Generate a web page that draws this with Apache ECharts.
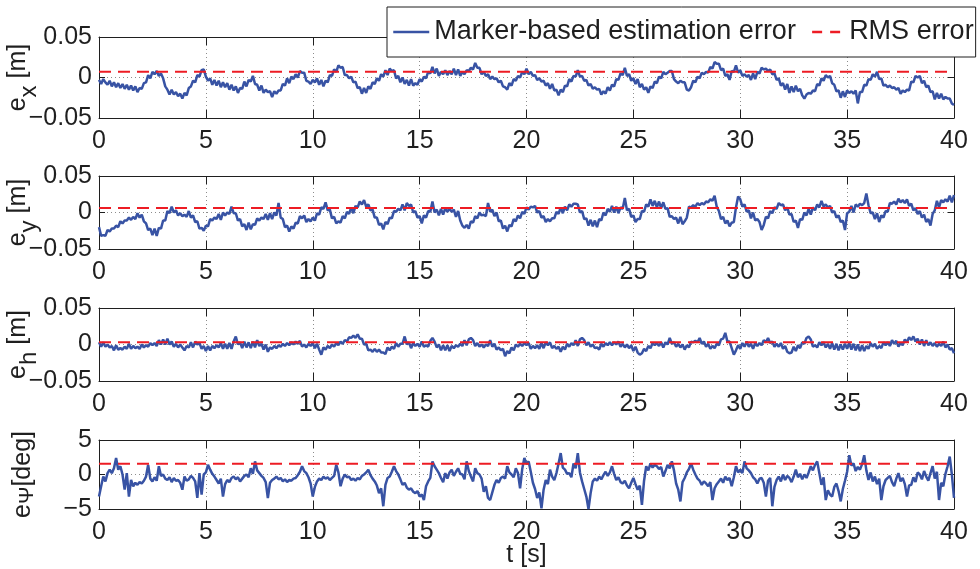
<!DOCTYPE html>
<html>
<head>
<meta charset="utf-8">
<title>Marker-based estimation error</title>
<script src="https://cdn.jsdelivr.net/npm/echarts@6/dist/echarts.min.js"></script>
<style>
  html, body { margin: 0; padding: 0; background: #fff; }
  #chart { width: 980px; height: 569px; }
</style>
</head>
<body>
<div id="chart"></div>
<script>
// Sampling period of the logged errors [s]
const sampleStep = 0.1;

// Position error along x [m], one row per second
const exValues = [
-0.003,-0.008,-0.002,-0.006,-0.009,-0.004,-0.011,-0.006,-0.012,-0.007,
-0.013,-0.008,-0.014,-0.009,-0.015,-0.010,-0.016,-0.011,-0.018,-0.013,
-0.014,-0.007,-0.006,0.003,-0.001,0.007,0.004,0.008,0.002,0.005,
-0.001,-0.011,-0.015,-0.021,-0.015,-0.021,-0.018,-0.023,-0.020,-0.026,
-0.019,-0.022,-0.013,-0.011,-0.004,-0.006,0.003,0.001,0.009,0.010,
0.001,-0.004,-0.001,-0.009,-0.003,-0.010,-0.004,-0.012,-0.006,-0.012,
-0.007,-0.015,-0.009,-0.016,-0.011,-0.019,-0.013,-0.014,-0.005,-0.011,
-0.003,-0.005,0.002,-0.008,-0.009,-0.016,-0.010,-0.019,-0.015,-0.018,
-0.017,-0.024,-0.017,-0.020,-0.016,-0.016,-0.008,-0.010,-0.001,-0.007,
0.001,-0.002,0.004,0.000,0.008,0.006,0.006,-0.004,-0.005,-0.008,
-0.003,-0.006,-0.001,-0.009,-0.003,-0.011,-0.004,-0.006,0.003,0.002,
0.010,0.007,0.015,0.012,0.013,0.003,0.003,-0.001,0.001,-0.006,
-0.005,-0.013,-0.012,-0.020,-0.013,-0.019,-0.011,-0.014,-0.006,-0.008,
-0.001,-0.004,0.004,0.001,0.009,0.003,0.011,0.008,0.009,-0.001,
0.002,-0.006,0.000,-0.008,-0.003,-0.010,-0.002,-0.010,-0.007,-0.009,
-0.002,-0.005,0.001,-0.001,0.007,0.005,0.013,0.005,0.011,0.002,
0.007,0.004,0.009,0.003,0.008,0.004,0.011,0.003,0.010,0.002,
0.007,0.004,0.009,0.008,0.012,0.010,0.018,0.012,0.012,0.004,
0.007,0.002,0.004,-0.002,0.001,-0.002,-0.001,-0.006,-0.004,-0.011,
-0.012,-0.015,-0.007,-0.010,-0.002,-0.004,0.002,0.000,0.007,0.004,
0.011,0.004,0.007,0.002,0.003,-0.003,-0.001,-0.005,-0.004,-0.010,
-0.007,-0.014,-0.008,-0.016,-0.015,-0.022,-0.015,-0.018,-0.010,-0.011,
-0.002,-0.005,0.002,0.001,0.009,0.001,0.002,-0.004,-0.003,-0.010,
-0.008,-0.014,-0.012,-0.015,-0.014,-0.021,-0.017,-0.020,-0.012,-0.016,
-0.009,-0.011,-0.002,-0.003,0.005,0.003,0.012,0.002,0.004,-0.004,
-0.001,-0.008,-0.002,-0.012,-0.008,-0.015,-0.012,-0.019,-0.011,-0.013,
-0.005,-0.007,0.001,-0.001,0.007,0.004,0.006,0.008,0.008,-0.002,
-0.005,-0.007,-0.004,-0.006,-0.006,-0.015,-0.016,-0.012,-0.004,-0.006,
0.001,-0.001,0.006,0.004,0.007,0.006,0.013,0.011,0.019,0.017,
0.017,0.009,0.011,0.002,0.004,-0.003,0.008,0.007,0.015,0.006,
0.009,0.002,0.004,0.001,0.003,-0.003,0.005,-0.002,0.007,0.005,
0.012,0.010,0.011,0.008,0.010,0.004,0.005,-0.003,-0.001,-0.010,
-0.007,-0.015,-0.008,-0.019,-0.011,-0.018,-0.010,-0.017,-0.014,-0.022,
-0.026,-0.021,-0.019,-0.020,-0.016,-0.017,-0.008,-0.010,-0.001,-0.004,
0.003,0.000,0.002,-0.007,-0.009,-0.017,-0.016,-0.025,-0.017,-0.024,
-0.016,-0.019,-0.017,-0.020,-0.016,-0.032,-0.018,-0.018,-0.009,-0.010,
-0.002,-0.003,0.004,0.001,0.007,-0.002,-0.001,-0.010,-0.009,-0.012,
-0.010,-0.013,-0.012,-0.015,-0.013,-0.020,-0.016,-0.018,-0.015,-0.016,
-0.005,-0.006,0.002,0.000,0.002,-0.007,-0.004,-0.012,-0.010,-0.018,
-0.017,-0.027,-0.019,-0.026,-0.020,-0.027,-0.024,-0.026,-0.026,-0.032,
-0.034
];

// Position error along y [m]
const eyValues = [
-0.020,-0.032,-0.031,-0.032,-0.024,-0.026,-0.022,-0.022,-0.018,-0.020,
-0.012,-0.015,-0.011,-0.011,-0.007,-0.010,-0.006,-0.009,-0.001,-0.007,
-0.003,-0.012,-0.015,-0.024,-0.022,-0.031,-0.022,-0.032,-0.021,-0.022,
-0.011,-0.011,0.002,-0.001,0.008,0.000,0.003,-0.004,-0.001,-0.005,
-0.003,-0.006,0.002,-0.007,-0.004,-0.013,-0.012,-0.022,-0.021,-0.025,
-0.018,-0.019,-0.009,-0.011,-0.007,-0.009,-0.002,-0.010,0.000,-0.004,
0.000,-0.002,0.008,-0.001,-0.001,-0.011,-0.009,-0.019,-0.016,-0.024,
-0.014,-0.023,-0.016,-0.017,-0.008,-0.011,-0.007,-0.009,-0.002,-0.010,
-0.001,-0.009,0.000,-0.004,0.013,-0.007,-0.009,-0.020,-0.018,-0.026,
-0.019,-0.022,-0.014,-0.015,-0.005,-0.008,-0.004,-0.013,-0.009,-0.012,
-0.007,-0.011,-0.001,-0.003,0.007,0.005,0.014,0.003,0.004,-0.008,
-0.006,-0.015,-0.012,-0.014,-0.005,-0.008,0.001,-0.002,0.007,-0.001,
0.009,0.007,0.015,0.011,0.017,0.008,0.011,0.003,0.004,-0.007,
-0.007,-0.017,-0.015,-0.023,-0.013,-0.016,-0.007,-0.008,0.002,0.001,
0.005,0.003,0.011,0.003,0.013,0.009,0.011,0.000,0.002,-0.007,
-0.005,-0.015,-0.004,-0.007,0.002,0.001,0.015,0.000,0.004,-0.004,
0.005,-0.003,0.006,0.001,0.005,0.001,0.004,-0.006,0.002,-0.011,
-0.018,-0.021,-0.017,-0.022,-0.012,-0.014,-0.005,-0.008,0.000,-0.004,
-0.003,-0.005,0.013,0.001,0.004,-0.005,0.000,-0.012,-0.011,-0.022,
-0.018,-0.026,-0.017,-0.019,-0.009,-0.012,-0.004,-0.008,0.001,-0.002,
0.007,0.004,0.008,0.007,0.009,0.000,0.002,-0.007,-0.005,-0.013,
-0.009,-0.012,-0.008,-0.008,0.001,-0.002,0.007,-0.001,0.008,0.003,
0.011,0.008,0.012,0.012,0.011,0.000,0.002,-0.009,-0.008,-0.018,
-0.010,-0.019,-0.011,-0.020,-0.009,-0.011,0.000,-0.004,0.005,0.001,
0.009,0.000,0.008,-0.001,0.007,0.005,0.020,0.003,0.005,-0.006,
-0.004,-0.013,-0.009,-0.009,0.002,0.001,0.011,0.008,0.018,0.009,
0.016,0.007,0.015,0.006,0.014,0.005,0.006,-0.006,-0.005,-0.009,
-0.007,-0.015,-0.006,-0.016,-0.012,-0.007,0.008,0.007,0.010,0.008,
0.013,0.010,0.013,0.011,0.015,0.014,0.018,0.016,0.023,0.008,
0.002,-0.009,-0.006,-0.015,-0.011,-0.019,-0.014,-0.013,0.007,0.022,
0.018,0.008,0.011,0.001,0.003,-0.008,0.000,-0.011,-0.009,-0.013,
-0.024,-0.017,-0.006,-0.008,0.002,-0.001,0.007,0.005,0.013,0.010,
0.011,0.003,0.007,-0.003,-0.002,-0.013,-0.011,-0.021,-0.009,-0.010,
0.000,-0.004,0.005,-0.003,0.007,0.003,0.011,0.007,0.016,0.008,
0.011,0.007,0.009,0.000,0.002,-0.007,-0.004,-0.013,-0.011,-0.024,
-0.001,0.001,0.009,0.000,0.011,0.008,0.012,0.010,0.013,0.026,
0.010,-0.001,0.000,-0.009,-0.001,-0.013,-0.004,-0.007,0.002,0.001,
0.013,0.012,0.015,0.011,0.019,0.014,0.017,0.013,0.018,0.009,
0.012,0.003,0.006,-0.002,0.002,-0.007,-0.003,-0.013,-0.009,-0.018,
-0.002,0.003,0.016,0.007,0.017,0.014,0.018,0.015,0.023,0.014,
0.024
];

// Height error [m]
const ehValues = [
0.003,-0.003,0.003,-0.003,0.000,-0.004,-0.002,-0.008,-0.001,-0.007,
-0.005,-0.007,-0.003,-0.006,0.001,-0.006,-0.002,-0.005,-0.003,-0.006,
0.000,-0.004,-0.001,-0.003,0.002,-0.001,0.002,-0.002,0.006,0.000,
0.007,0.000,0.008,0.000,0.004,-0.003,0.001,-0.004,0.000,-0.004,
-0.008,-0.002,-0.004,0.003,-0.004,0.004,0.000,0.002,-0.006,-0.002,
-0.009,-0.002,-0.008,-0.002,-0.005,-0.001,-0.004,0.002,-0.006,0.001,
-0.006,0.002,-0.006,0.004,0.011,0.000,0.003,-0.005,0.004,-0.004,
0.003,-0.005,0.004,-0.004,0.006,-0.002,0.001,-0.007,0.000,-0.010,
-0.004,-0.006,-0.002,-0.005,-0.001,-0.003,0.001,-0.002,0.002,-0.001,
0.003,0.000,0.004,0.001,0.005,-0.003,0.000,-0.004,0.001,-0.002,
0.002,-0.005,0.001,-0.007,-0.014,-0.004,-0.007,-0.002,-0.005,0.000,
-0.003,0.002,-0.001,0.004,0.001,0.006,0.004,0.010,0.009,0.012,
0.009,0.014,0.008,0.008,0.000,0.001,-0.008,-0.007,-0.010,-0.006,
-0.010,-0.007,-0.011,-0.011,-0.013,-0.004,-0.008,-0.003,-0.006,0.002,
-0.003,0.001,0.001,0.011,0.000,0.003,-0.005,0.002,-0.002,0.001,
-0.003,0.004,-0.003,-0.001,-0.003,0.005,0.009,0.004,-0.004,0.000,
-0.008,-0.001,-0.008,-0.001,-0.009,-0.002,-0.005,-0.001,-0.003,0.001,
-0.002,0.006,-0.001,0.007,0.009,0.006,-0.002,0.002,-0.003,0.000,
-0.004,0.000,-0.002,0.006,-0.003,0.001,-0.007,-0.004,-0.008,-0.006,
-0.016,-0.009,-0.012,-0.004,-0.008,0.000,-0.003,0.001,-0.002,0.002,
-0.001,0.002,-0.006,-0.002,-0.005,-0.001,-0.006,0.002,-0.005,0.003,
-0.001,0.003,-0.005,-0.002,-0.006,-0.003,-0.010,-0.003,-0.007,0.001,
-0.003,0.002,-0.001,0.006,-0.002,0.007,0.009,0.006,-0.001,0.003,
-0.003,0.000,-0.005,-0.004,-0.007,0.001,-0.003,0.002,-0.001,0.003,
-0.001,0.003,0.000,0.004,-0.003,0.001,-0.004,0.000,-0.005,-0.001,
-0.009,-0.003,-0.011,-0.014,-0.012,-0.006,-0.009,-0.002,-0.005,0.002,
-0.001,0.002,-0.002,0.003,-0.004,0.003,0.000,0.009,0.001,0.003,
-0.003,0.001,-0.004,0.000,-0.007,-0.001,-0.004,0.004,0.003,0.005,
0.003,0.009,0.001,0.004,-0.003,0.001,-0.006,-0.002,-0.005,0.001,
-0.001,0.007,0.008,0.016,0.004,0.004,-0.005,-0.014,-0.008,-0.001,
-0.006,0.002,-0.003,0.004,-0.003,0.001,-0.006,0.002,-0.002,0.002,
-0.001,0.006,0.003,0.009,0.002,0.004,-0.003,0.001,-0.003,0.002,
-0.006,-0.002,-0.010,-0.012,-0.011,-0.003,-0.009,-0.001,-0.005,0.003,
0.001,0.009,0.011,0.007,-0.003,-0.001,-0.004,0.003,-0.001,0.003,
-0.004,0.001,-0.006,0.002,-0.007,0.001,-0.008,0.000,-0.007,0.001,
-0.006,0.002,-0.007,0.001,-0.008,0.000,-0.009,-0.001,-0.009,-0.002,
-0.006,0.002,-0.003,0.001,-0.006,-0.002,-0.005,0.003,-0.001,0.003,
-0.002,0.006,0.001,0.005,-0.003,0.002,-0.001,0.007,0.003,0.010,
0.006,0.011,0.004,0.008,0.000,0.007,-0.002,0.006,-0.001,0.003,
-0.002,0.002,-0.003,0.001,-0.002,0.004,-0.004,0.000,-0.007,-0.005,
-0.012
];

// Heading error [deg]
const epsiValues = [
-3.2,-1.7,-0.3,-1.0,0.2,0.7,0.2,0.9,2.4,0.7,
1.2,0.0,-2.2,0.2,-3.2,-0.8,-1.7,-1.2,-1.5,-1.1,
-1.3,-0.9,-0.3,1.4,-0.6,-1.0,-0.4,-0.9,1.2,-0.2,
0.0,-0.6,-0.8,-0.4,-1.1,-0.5,-0.9,-0.8,-1.2,-2.2,
-0.3,-0.9,-0.7,-0.2,-0.5,-1.0,-3.4,0.2,-2.9,0.0,
0.3,1.4,0.7,0.1,-0.3,-0.8,-1.3,-0.6,-3.2,-1.4,
-0.8,-1.1,-0.5,-0.3,-0.7,-0.4,-1.0,-0.6,-0.2,0.0,
-0.4,0.9,0.1,1.9,0.6,0.2,-0.2,-0.5,-1.1,-3.4,
-1.2,-0.8,-0.6,-0.3,-0.7,-0.5,-1.0,-0.7,-1.1,-0.8,
-0.9,-0.6,-0.5,-0.1,0.4,1.2,0.5,0.2,-0.4,-1.3,
-3.2,-1.8,-1.0,-0.6,-0.8,-0.3,-0.6,-0.4,-0.8,-0.5,
-0.2,1.4,0.3,-1.7,-0.6,0.0,-0.4,-0.3,-0.8,-0.6,
-0.9,-0.5,-0.7,-0.2,0.0,0.3,0.7,-0.1,-0.6,-1.0,
-1.6,-2.7,-2.0,-4.6,-1.5,-0.5,-0.3,0.4,1.2,0.5,
0.0,-0.7,-1.5,-1.2,-1.9,-2.2,-2.0,-2.5,-2.7,-2.4,
-3.2,-2.9,-3.7,-1.7,-1.0,-0.5,1.9,1.2,0.7,0.2,
-0.5,-1.1,0.2,-0.6,0.3,0.7,-0.2,0.4,0.9,0.1,
0.0,-0.7,1.9,0.5,-0.3,-1.0,0.9,0.2,0.0,-0.6,
-2.5,-1.7,-3.4,-3.7,-2.6,-1.5,-0.8,-1.2,-0.5,-0.3,
-0.6,1.2,0.3,0.0,-0.4,0.9,0.2,-2.0,0.8,2.4,
1.5,1.9,0.4,-1.2,-2.1,-3.4,-2.6,-4.9,-2.2,-0.8,
-1.4,0.7,-0.3,-0.8,0.2,1.6,3.1,1.0,0.7,0.1,
0.2,-0.4,1.6,0.9,3.1,0.3,-1.0,-2.1,-3.2,-5.0,
-2.7,-1.0,-0.6,-0.9,-0.3,-0.7,-0.1,0.4,-0.2,0.3,
1.2,0.1,-0.8,-0.4,-1.1,-1.3,-0.9,-1.6,-2.0,-1.2,
-0.5,-1.4,-2.2,-1.6,-4.4,-0.9,1.2,0.6,1.6,1.0,
1.4,1.2,0.8,1.1,-0.3,0.5,1.4,0.9,1.9,0.6,
-1.3,-2.2,-3.9,-1.1,-0.5,0.3,0.8,1.6,0.7,0.0,
-0.6,-0.9,-1.5,-1.0,-1.3,-1.7,-1.1,-3.7,-2.0,-1.4,
-1.0,-0.6,-1.2,-0.3,-0.8,-0.5,-1.7,-0.4,1.2,0.3,
0.7,0.2,1.9,0.9,0.6,0.2,-0.4,-0.7,-1.3,-0.6,
-0.5,-1.2,-3.2,-0.9,-0.5,-4.6,-1.8,-0.8,-0.3,-1.0,
0.0,-0.8,-0.2,-0.5,-1.1,-0.3,0.7,-0.4,0.1,-0.7,
0.0,-0.5,0.3,1.2,0.6,1.4,1.9,0.2,-1.5,-0.4,
-3.7,-2.3,-2.9,-3.2,-1.8,-1.3,-2.4,-3.9,-2.1,-0.9,
0.4,2.8,1.3,1.6,0.5,1.1,0.7,1.5,2.8,0.6,
-0.8,0.3,-1.0,-0.3,-1.4,-0.6,-3.7,-1.7,-0.8,-0.5,
-0.2,-1.1,-1.7,-0.6,0.2,-1.0,-0.5,-1.4,-3.2,-1.6,
-1.5,-0.4,-1.1,0.3,0.0,-0.7,0.5,-0.3,-0.9,0.2,
1.2,-0.6,0.4,-3.7,-1.2,-1.7,0.1,1.2,2.6,0.0,
-3.4
];

// RMS level of each error signal
const rmsLevels = [0.007, 0.006, 0.003, 1.54];

// Axis names (rich text: e with subscript, unit)
const axisNames = ['{e|e}{s|x} {u|[m]}', '{e|e}{s|y} {u|[m]}', '{e|e}{s|h} {u|[m]}', '{e|e}{p|\u03A8}{u|[deg]}'];
const seriesNames = ['Marker-based estimation error', 'RMS error'];
const timeRange = [0, 40, 5];
const posRange = [-0.05, 0.05, 0.05];
const degRange = [-5, 5, 5];

const FONT = '"Liberation Sans", Arial, Helvetica, sans-serif';
const INK = '#1f1f1f';
const BLUE = '#3853A4';
const RED = '#ED1C24';

const layout = [
  { top: 37, height: 81, nameGap: 58 },
  { top: 176, height: 73, nameGap: 58 },
  { top: 308, height: 73, nameGap: 58 },
  { top: 440, height: 69, nameGap: 61 }
];
const plotLeft = 99, plotWidth = 855;

const panels = [
  { values: exValues, range: posRange },
  { values: eyValues, range: posRange },
  { values: ehValues, range: posRange },
  { values: epsiValues, range: degRange }
];

function signedLabel(v) {
  if (v === 0) return '0';
  return (v < 0 ? '\u2212' : '') + String(Math.abs(v));
}

function toPairs(values) {
  return values.map((v, i) => [Math.round(i * sampleStep * 10) / 10, v]);
}

const grid = [], xAxis = [], yAxis = [], series = [];
const dotted = { show: true, lineStyle: { color: '#8c8c8c', type: [1, 3], width: 1 } };

panels.forEach((p, i) => {
  const L = layout[i];
  grid.push({
    left: plotLeft, width: plotWidth, top: L.top, height: L.height,
    containLabel: false, outerBoundsMode: 'none'
  });

  // bottom time axis with labels
  xAxis.push({
    type: 'value', gridIndex: i, position: 'bottom',
    min: timeRange[0], max: timeRange[1], interval: timeRange[2],
    axisLine: { show: true, onZero: false, lineStyle: { color: INK, width: 1 } },
    axisTick: { show: true, inside: true, length: 8, lineStyle: { color: INK } },
    axisLabel: { show: true, margin: 11, fontSize: 25, color: INK, fontFamily: FONT },
    splitLine: dotted,
    name: i === 3 ? 't [s]' : '', nameLocation: 'middle', nameGap: 34, nameMoveOverlap: false,
    nameTextStyle: { fontSize: 25, color: INK, fontFamily: FONT }
  });
  // top edge of the box
  xAxis.push({
    type: 'value', gridIndex: i, position: 'top',
    min: timeRange[0], max: timeRange[1], interval: timeRange[2],
    axisLine: { show: true, onZero: false, lineStyle: { color: INK, width: 1 } },
    axisTick: { show: true, inside: true, length: 8, lineStyle: { color: INK } },
    axisLabel: { show: false }, splitLine: { show: false }
  });

  // left value axis
  yAxis.push({
    type: 'value', gridIndex: i, position: 'left',
    min: p.range[0], max: p.range[1], interval: p.range[2],
    axisLine: { show: true, onZero: false, lineStyle: { color: INK, width: 1 } },
    axisTick: { show: true, inside: true, length: 6, lineStyle: { color: INK } },
    axisLabel: { show: true, margin: 7, fontSize: 25, color: INK, fontFamily: FONT, formatter: signedLabel },
    splitLine: dotted,
    name: axisNames[i], nameLocation: 'middle', nameGap: L.nameGap, nameMoveOverlap: false,
    nameTextStyle: {
      color: INK, fontFamily: FONT, fontSize: 25,
      rich: {
        e: { fontSize: 25, fontFamily: FONT, color: INK, verticalAlign: 'top' },
        u: { fontSize: 25, fontFamily: FONT, color: INK, verticalAlign: 'top' },
        s: { fontSize: 24, fontFamily: FONT, color: INK, verticalAlign: 'bottom', padding: [11, 0, 0, 0] },
        p: { fontSize: 21, fontFamily: FONT, color: INK, verticalAlign: 'bottom', padding: [6, 0, 0, 0] }
      }
    }
  });
  // right edge of the box
  yAxis.push({
    type: 'value', gridIndex: i, position: 'right',
    min: p.range[0], max: p.range[1], interval: p.range[2],
    axisLine: { show: true, onZero: false, lineStyle: { color: INK, width: 1 } },
    axisTick: { show: true, inside: true, length: 6, lineStyle: { color: INK } },
    axisLabel: { show: false }, splitLine: { show: false }
  });

  series.push({
    name: seriesNames[0], type: 'line', xAxisIndex: 2 * i, yAxisIndex: 2 * i,
    data: toPairs(p.values), showSymbol: false, symbol: 'none',
    lineStyle: { color: BLUE, width: 2.5 }, itemStyle: { color: BLUE },
    z: 2, animation: false, silent: true
  });
  series.push({
    name: seriesNames[1], type: 'line', xAxisIndex: 2 * i, yAxisIndex: 2 * i,
    data: [[timeRange[0], rmsLevels[i]], [timeRange[1], rmsLevels[i]]],
    showSymbol: false, symbol: 'none',
    lineStyle: { color: RED, width: 2, type: [12, 7] }, itemStyle: { color: RED },
    z: 3, animation: false, silent: true
  });
});

const chart = echarts.init(document.getElementById('chart'), null, { renderer: 'canvas' });
chart.setOption({
  animation: false,
  backgroundColor: '#fff',
  textStyle: { fontFamily: FONT },
  grid, xAxis, yAxis, series,
  legend: {
    show: true,
    orient: 'horizontal',
    left: 387, top: 7,
    padding: [11, 2, 11, 5],
    itemGap: 11, itemWidth: 36, itemHeight: 28,
    backgroundColor: '#fff', borderColor: INK, borderWidth: 1,
    selectedMode: false,
    z: 10,
    // line-only keys: the marker symbol is hidden
    itemStyle: { opacity: 0 },
    textStyle: { fontSize: 27, color: INK, fontFamily: FONT, lineHeight: 28 },
    data: [
      { name: seriesNames[0], lineStyle: { color: BLUE, width: 2.5, type: 'solid' } },
      { name: seriesNames[1], lineStyle: { color: RED, width: 2.5, type: [10, 8], dashOffset: 14 } }
    ]
  }
});
</script>
</body>
</html>
